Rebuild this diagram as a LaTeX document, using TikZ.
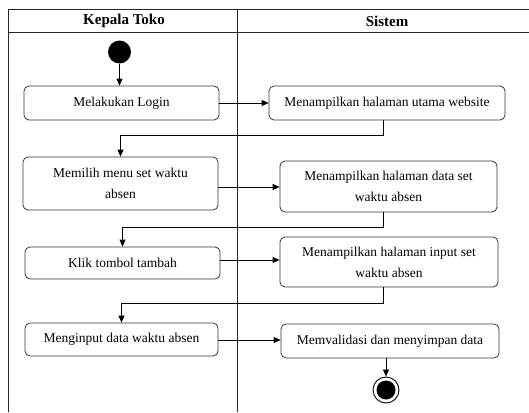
\documentclass[tikz,border=0pt]{standalone}
\usepackage{fontspec}
\setmainfont{Liberation Serif}
\usetikzlibrary{arrows.meta,calc}
\begin{document}
\begin{tikzpicture}[x=1pt,y=-1pt,
  lane/.style={line width=0.8pt,draw=black!85},
  act/.style={draw=black!80,line width=0.8pt,rounded corners=5pt,fill=white,
    font=\fontsize{13.5}{21}\selectfont,align=center,inner sep=2pt},
  flow/.style={line width=0.8pt,-{Triangle[length=7pt,width=6pt]}},
  hdr/.style={font=\fontsize{15}{18}\selectfont\bfseries}]
\useasboundingbox (0,0) rectangle (529,412);
% swimlanes
\draw[lane] (529,9.5) -- (8,9.5) -- (8,412);
\draw[lane] (8,32) -- (529,32);
\draw[lane] (237.5,9.5) -- (237.5,412);
\node[hdr] (h1) at (124,21) {Kepala Toko};
\node[hdr] (h2) at (387,21) {Sistem};
% start
\node[circle,fill=black,minimum size=23pt,inner sep=0pt] (start) at (119.5,52) {};
% activities
\node[act,minimum width=195pt,minimum height=34pt] (b1) at (121.5,103) {Melakukan Login};
\node[act,minimum width=236pt,minimum height=34pt] (b2) at (387,103) {Menampilkan halaman utama website};
\node[act,minimum width=195pt,minimum height=53pt] (b3) at (120.5,183.5) {Memilih menu set waktu\\absen};
\node[act,minimum width=217pt,minimum height=51pt] (b4) at (388.5,186.5) {Menampilkan halaman data set\\waktu absen};
\node[act,minimum width=195pt,minimum height=32pt] (b5) at (122.5,263) {Klik tombol tambah};
\node[act,minimum width=218pt,minimum height=50pt] (b6) at (389,262) {Menampilkan halaman input set\\waktu absen};
\node[act,minimum width=193pt,minimum height=33pt] (b7) at (121.5,339.5) {Menginput data waktu absen};
\node[act,minimum width=218pt,minimum height=34pt] (b8) at (390,341) {Memvalidasi dan menyimpan data};
% end
\node[circle,draw=black,line width=0.9pt,minimum size=26pt,inner sep=0pt] (end) at (386,390) {};
\node[circle,fill=black,minimum size=19pt,inner sep=0pt] (endin) at (386,390) {};
% flows
\draw[flow] (start) -- (start |- b1.north);
\draw[flow] (b1.east) -- (b2.west);
\draw[flow] ($(b2.south)+(-4,0)$) -- ++(0,15) -| (b3.north);
\draw[flow] (b3.east |- 0,187) -- (b4.west |- 0,187);
\draw[flow] ($(b4.south)+(-5.5,0)$) -- ++(0,15) -| (b5.north);
\draw[flow] (b5.east |- 0,260) -- (b6.west |- 0,260);
\draw[flow] ($(b6.south)+(-6,0)$) -- ++(0,16) -| (b7.north);
\draw[flow] (b7.east |- 0,340) -- (b8.west |- 0,340);
\draw[flow] (end.north |- b8.south) -- (end.north);
\end{tikzpicture}
\end{document}
